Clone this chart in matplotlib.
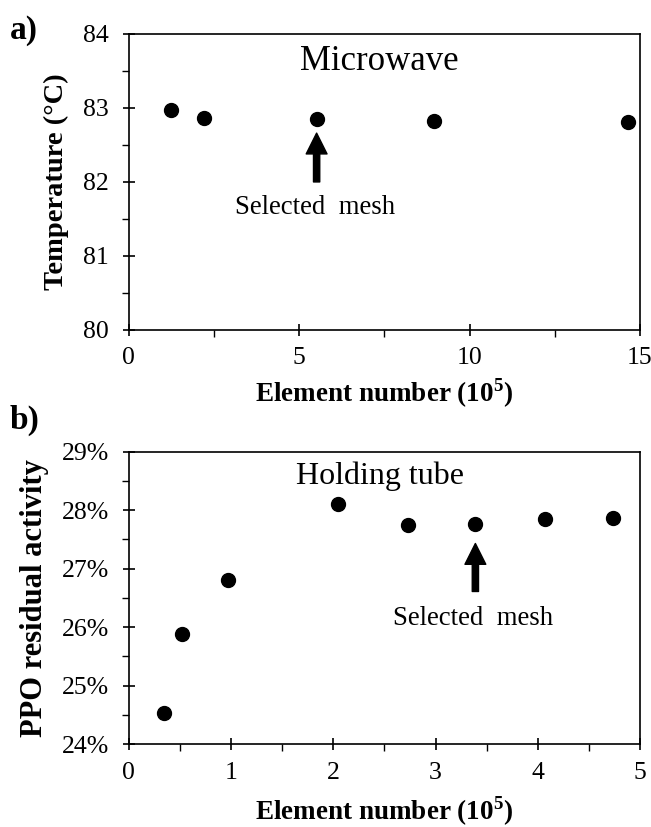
import matplotlib.pyplot as plt
from matplotlib.ticker import MultipleLocator, PercentFormatter

plt.rcParams['font.family'] = ['Liberation Serif', 'DejaVu Serif']
plt.rcParams['mathtext.fontset'] = 'custom'
plt.rcParams['mathtext.rm'] = 'Liberation Serif'
plt.rcParams['mathtext.bf'] = 'Liberation Serif:bold'

# panel a) microwave mesh study
mw_elements = [1.25, 2.19, 5.51, 8.97, 14.65]   # 10^5 elements
mw_temp = [82.97, 82.87, 82.85, 82.83, 82.81]   # deg C
mw_selected = 5.51

# panel b) holding tube mesh study
ht_elements = [0.345, 0.52, 0.965, 2.05, 2.73, 3.39, 4.07, 4.74]
ht_ppo = [24.54, 25.89, 26.81, 28.10, 27.75, 27.77, 27.85, 27.87]  # %
ht_selected = 3.39

xlab = r'Element number (10$^{\mathbf{5}}$)'

fig = plt.figure(figsize=(6.51, 8.27), dpi=100)
ax1 = fig.add_axes([0.198, 0.601, 0.785, 0.358])
ax2 = fig.add_axes([0.198, 0.100, 0.785, 0.354])

def style(ax):
    for s in ax.spines.values():
        s.set_linewidth(1.2)
    ax.tick_params(which='major', direction='inout', length=9, width=1.2,
                   labelsize=18.5)
    ax.tick_params(axis='x', which='major', pad=8)
    ax.tick_params(axis='y', which='major', pad=10)
    ax.tick_params(which='minor', direction='out', length=5, width=1.0)

arrow = dict(facecolor='black', edgecolor='black', width=4.5,
             headwidth=15, headlength=15)

# a)
ax1.plot(mw_elements, mw_temp, 'o', color='black', ms=10)
ax1.set_xlim(0, 15)
ax1.set_ylim(80, 84)
ax1.xaxis.set_major_locator(MultipleLocator(5))
ax1.xaxis.set_minor_locator(MultipleLocator(2.5))
ax1.yaxis.set_major_locator(MultipleLocator(1))
ax1.yaxis.set_minor_locator(MultipleLocator(0.5))
style(ax1)
ax1.set_xlabel(xlab, fontsize=19.5, fontweight='bold', labelpad=5)
ax1.set_ylabel('Temperature (°C)', fontsize=20.5, fontweight='bold', labelpad=10)
ax1.text(7.34, 83.63, 'Microwave', fontsize=25, ha='center', va='center')
ax1.annotate('', xy=(mw_selected, 82.66), xytext=(mw_selected, 82.0), arrowprops=arrow)
ax1.text(mw_selected - 0.05, 81.65, 'Selected  mesh', fontsize=19.3,
         ha='center', va='center')
fig.text(0.015, 0.963, 'a)', fontsize=24, fontweight='bold', va='center')

# b)
ax2.plot(ht_elements, ht_ppo, 'o', color='black', ms=10)
ax2.set_xlim(0, 5)
ax2.set_ylim(24, 29)
ax2.xaxis.set_major_locator(MultipleLocator(1))
ax2.xaxis.set_minor_locator(MultipleLocator(0.5))
ax2.yaxis.set_major_locator(MultipleLocator(1))
ax2.yaxis.set_minor_locator(MultipleLocator(0.5))
ax2.yaxis.set_major_formatter(PercentFormatter(decimals=0))
style(ax2)
ax2.set_xlabel(xlab, fontsize=19.5, fontweight='bold', labelpad=8)
ax2.set_ylabel('PPO residual activity', fontsize=22, fontweight='bold', labelpad=9)
ax2.text(2.46, 28.57, 'Holding tube', fontsize=23, ha='center', va='center')
ax2.annotate('', xy=(ht_selected, 27.43), xytext=(ht_selected, 26.61), arrowprops=arrow)
ax2.text(ht_selected - 0.02, 26.15, 'Selected  mesh', fontsize=19.3,
         ha='center', va='center')
fig.text(0.015, 0.492, 'b)', fontsize=24, fontweight='bold', va='center')

fig.savefig('out.png', dpi=100)
